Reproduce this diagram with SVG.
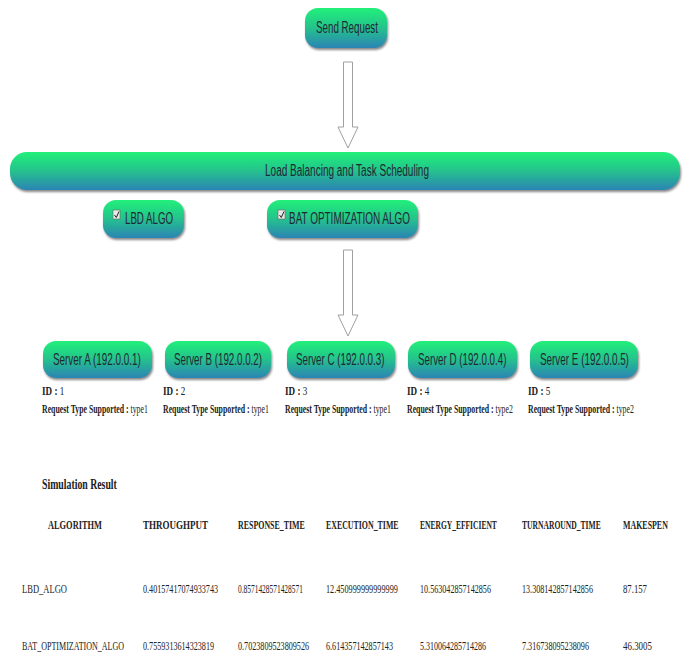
<svg xmlns="http://www.w3.org/2000/svg" width="688" height="656" viewBox="0 0 688 656">
<defs>
<linearGradient id="g" x1="0" y1="0" x2="0" y2="1">
<stop offset="0" stop-color="#20f07a"/>
<stop offset="0.45" stop-color="#25c78a"/>
<stop offset="1" stop-color="#2b84b4"/>
</linearGradient>
<filter id="sh" x="-10%" y="-20%" width="120%" height="150%">
<feDropShadow dx="1" dy="2" stdDeviation="1.2" flood-color="#555" flood-opacity="0.7"/>
</filter>
</defs>
<style>
.pill{fill:url(#g);filter:url(#sh)}
.pt{font-family:"Liberation Sans",Arial,sans-serif;font-size:16px;fill:#1f2a33}
.arr{fill:#fff;stroke:#a0a0a0;stroke-width:1}
.cb{fill:#e8e8e8;stroke:#666;stroke-width:0.6}
.ck{fill:none;stroke:#222;stroke-width:1}
.b{font-family:"Liberation Serif","Times New Roman",serif;font-size:13px;font-weight:bold;fill:#222}
.n{font-family:"Liberation Serif","Times New Roman",serif;font-size:13px;fill:#222}
.w{font-weight:normal}
</style>
<rect width="688" height="656" fill="#fff"/>
<g id="connectors">
<path class="arr" d="M343.5,62 H352.5 V127 H358 L348,148 L338,127 H343.5 Z"/>
<path class="arr" d="M343.5,250 H352.5 V315 H358 L348,336 L338,315 H343.5 Z"/>
</g>
<g id="send-request">
<rect class="pill" x="305" y="8" width="82" height="40" rx="13"/>
<text class="pt" transform="translate(316,33) scale(0.611,1)">Send Request</text>
</g>
<g id="load-balancing">
<rect class="pill" x="10" y="152" width="670" height="38" rx="17"/>
<text class="pt" x="265" y="176" textLength="164" lengthAdjust="spacingAndGlyphs">Load Balancing and Task Scheduling</text>
</g>
<g id="lbd-algo">
<rect class="pill" x="103" y="200" width="81" height="38" rx="13"/>
<rect class="cb" x="113" y="210" width="7" height="9"/>
<path class="ck" d="M114.5,215 L116.3,217.5 L119,211.5"/>
<text class="pt" x="125" y="224" textLength="48" lengthAdjust="spacingAndGlyphs">LBD ALGO</text>
</g>
<g id="bat-algo">
<rect class="pill" x="267" y="200" width="151" height="38" rx="13"/>
<rect class="cb" x="278" y="210" width="7" height="9"/>
<path class="ck" d="M279.5,215 L281.3,217.5 L284,211.5"/>
<text class="pt" x="289" y="224" textLength="121" lengthAdjust="spacingAndGlyphs">BAT OPTIMIZATION ALGO</text>
</g>
<g id="server-a">
<rect class="pill" x="43" y="341" width="109" height="37" rx="13"/>
<text class="pt" transform="translate(53,365) scale(0.618,1)">Server A (192.0.0.1)</text>
<text class="b" transform="translate(42,395) scale(0.7,1)">ID : <tspan class="w">1</tspan></text>
<text class="b" transform="translate(42,413) scale(0.6,1)">Request Type Supported : <tspan class="w">type1</tspan></text>
</g>
<g id="server-b">
<rect class="pill" x="165" y="341" width="106" height="37" rx="13"/>
<text class="pt" transform="translate(174,365) scale(0.611,1)">Server B (192.0.0.2)</text>
<text class="b" transform="translate(163,395) scale(0.7,1)">ID : <tspan class="w">2</tspan></text>
<text class="b" transform="translate(163,413) scale(0.6,1)">Request Type Supported : <tspan class="w">type1</tspan></text>
</g>
<g id="server-c">
<rect class="pill" x="287" y="341" width="108" height="37" rx="13"/>
<text class="pt" transform="translate(296,365) scale(0.61,1)">Server C (192.0.0.3)</text>
<text class="b" transform="translate(285,395) scale(0.7,1)">ID : <tspan class="w">3</tspan></text>
<text class="b" transform="translate(285,413) scale(0.6,1)">Request Type Supported : <tspan class="w">type1</tspan></text>
</g>
<g id="server-d">
<rect class="pill" x="408" y="341" width="109" height="37" rx="13"/>
<text class="pt" transform="translate(418,365) scale(0.61,1)">Server D (192.0.0.4)</text>
<text class="b" transform="translate(407,395) scale(0.7,1)">ID : <tspan class="w">4</tspan></text>
<text class="b" transform="translate(407,413) scale(0.6,1)">Request Type Supported : <tspan class="w">type2</tspan></text>
</g>
<g id="server-e">
<rect class="pill" x="530" y="341" width="108" height="37" rx="13"/>
<text class="pt" transform="translate(540,365) scale(0.618,1)">Server E (192.0.0.5)</text>
<text class="b" transform="translate(528,395) scale(0.7,1)">ID : <tspan class="w">5</tspan></text>
<text class="b" transform="translate(528,413) scale(0.6,1)">Request Type Supported : <tspan class="w">type2</tspan></text>
</g>
<g id="results">
<text class="b" style="font-size:14px" transform="translate(42,489) scale(0.7,1)">Simulation Result</text>
<text class="b" transform="translate(48,529) scale(0.644,1)">ALGORITHM</text>
<text class="b" transform="translate(143,529) scale(0.694,1)">THROUGHPUT</text>
<text class="b" transform="translate(238,529) scale(0.61,1)">RESPONSE_TIME</text>
<text class="b" transform="translate(326,529) scale(0.606,1)">EXECUTION_TIME</text>
<text class="b" transform="translate(420,529) scale(0.579,1)">ENERGY_EFFICIENT</text>
<text class="b" transform="translate(522,529) scale(0.584,1)">TURNAROUND_TIME</text>
<text class="b" transform="translate(623,529) scale(0.61,1)">MAKESPEN</text>
<text class="n" transform="translate(22,593) scale(0.656,1)">LBD_ALGO</text>
<text class="n" transform="translate(143,593) scale(0.624,1)">0.40157417074933743</text>
<text class="n" transform="translate(238,593) scale(0.571,1)">0.8571428571428571</text>
<text class="n" transform="translate(326,593) scale(0.633,1)">12.450999999999999</text>
<text class="n" transform="translate(420,593) scale(0.624,1)">10.563042857142856</text>
<text class="n" transform="translate(522,593) scale(0.624,1)">13.308142857142856</text>
<text class="n" transform="translate(623,593) scale(0.671,1)">87.157</text>
<text class="n" transform="translate(22,650) scale(0.618,1)">BAT_OPTIMIZATION_ALGO</text>
<text class="n" transform="translate(143,650) scale(0.625,1)">0.7559313614323819</text>
<text class="n" transform="translate(238,650) scale(0.625,1)">0.7023809523809526</text>
<text class="n" transform="translate(326,650) scale(0.625,1)">6.614357142857143</text>
<text class="n" transform="translate(420,650) scale(0.615,1)">5.310064285714286</text>
<text class="n" transform="translate(522,650) scale(0.625,1)">7.316738095238096</text>
<text class="n" transform="translate(623,650) scale(0.686,1)">46.3005</text>
</g>
</svg>
